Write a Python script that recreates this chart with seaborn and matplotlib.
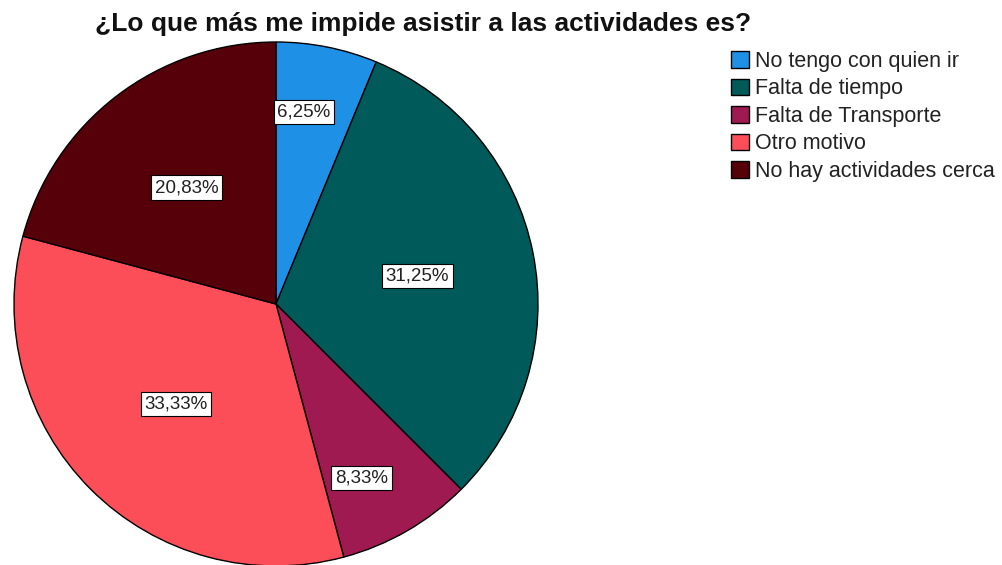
import matplotlib
matplotlib.use("Agg")
import matplotlib.pyplot as plt
import seaborn as sns
import numpy as np

categories = ["No tengo con quien ir", "Falta de tiempo", "Falta de Transporte",
              "Otro motivo", "No hay actividades cerca"]
percentages = [6.25, 31.25, 8.33, 33.33, 20.83]
colors = ["#1E90E6", "#005A5A", "#9E1A50", "#FC4E58", "#560009"]
# label placement inside each wedge: (fraction of wedge angle from its start, fraction of radius)
label_place = [(0.37, 0.74), (0.5, 0.55), (0.63, 0.74), (0.5, 0.54), (0.5, 0.56)]

sns.set_theme(style="white")
plt.rcParams["font.family"] = ["Liberation Sans", "DejaVu Sans"]

fig = plt.figure(figsize=(10.03, 5.65), dpi=100)
ax = fig.add_axes([14 / 1003, -1 / 565, 524 / 1003, 524 / 565])

wedges, _ = ax.pie(percentages, colors=colors, startangle=90, counterclock=False,
                   wedgeprops=dict(edgecolor="black", linewidth=1.0))

for w, pct, (f, r) in zip(wedges, percentages, label_place):
    # wedges go clockwise, so theta2 is the leading (start) edge
    ang = np.deg2rad(w.theta2 - f * (w.theta2 - w.theta1))
    ax.text(r * np.cos(ang), r * np.sin(ang), f"{pct:.2f}%".replace(".", ","),
            ha="center", va="center", fontsize=13.5, color="#222222",
            bbox=dict(boxstyle="square,pad=0.2", facecolor="white",
                      edgecolor="black", linewidth=0.8))

ax.set_xlim(-1, 1)
ax.set_ylim(-1, 1)
ax.set_aspect("equal")
ax.axis("off")

fig.text(423 / 1003, 1 - 24 / 565, "¿Lo que más me impide asistir a las actividades es?",
         ha="center", va="center", fontsize=19, fontweight="bold", color="#111111")

fig.legend(wedges, categories, loc="upper left", bbox_to_anchor=(731 / 1003, 1 - 51 / 565),
           frameon=False, fontsize=15.5, handlelength=0.82, handleheight=0.82,
           handletextpad=0.3, labelspacing=0.3, borderaxespad=0, borderpad=0,
           labelcolor="#222222")

fig.savefig("out.png", dpi=100)
